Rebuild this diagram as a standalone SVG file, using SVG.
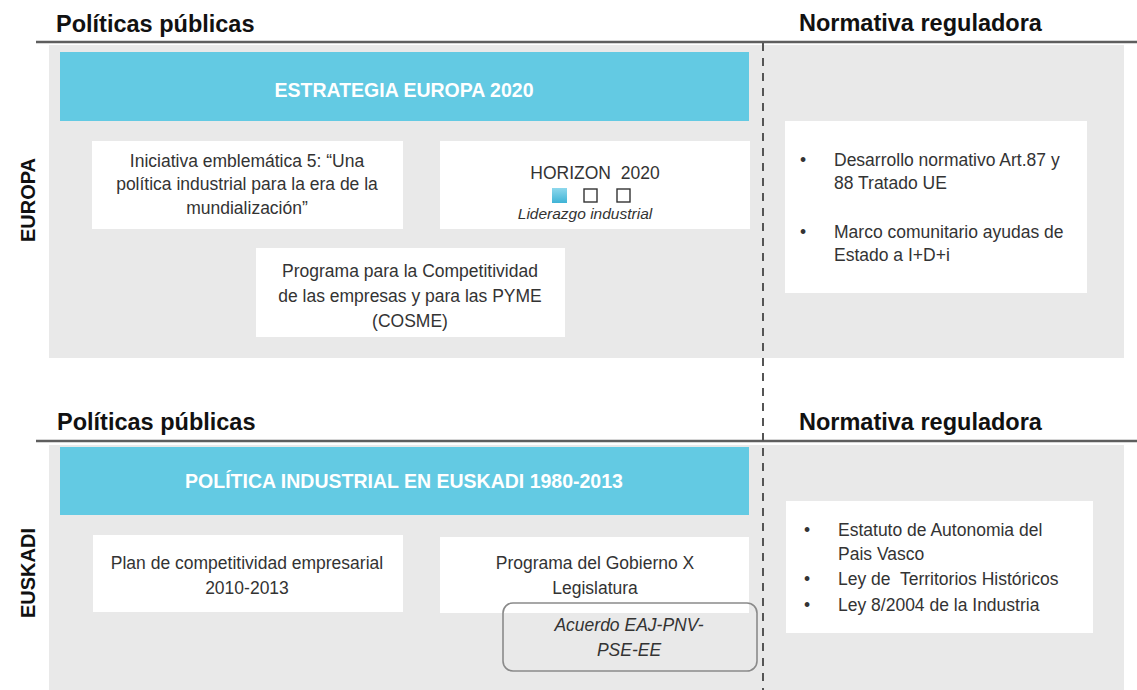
<svg xmlns="http://www.w3.org/2000/svg" width="1137" height="690" viewBox="0 0 1137 690">
<defs>
<style>
text{font-family:'Liberation Sans',Arial,sans-serif}
.h{font-weight:bold;font-size:23.5px;fill:#111}
.side{font-weight:bold;font-size:20px;fill:#111;text-anchor:middle}
.band{font-weight:bold;font-size:19.5px;fill:#fff;text-anchor:middle}
.t{font-size:17.5px;fill:#333;text-anchor:middle}
.l{font-size:17.5px;fill:#333}
.it{font-style:italic}
.panel{fill:#e9e9e9}
.bar{fill:#63cae3}
.box{fill:#fff}
.rule{stroke:#5e5e5e;stroke-width:2.5}
.sep{stroke:#555;stroke-width:2;stroke-dasharray:8 7;fill:none}
.hollow{fill:none;stroke:#333;stroke-width:1.4}
.pill{fill:none;stroke:#8a8a8a;stroke-width:1.6}
</style>
<linearGradient id="sq" x1="0" y1="0" x2="0" y2="1">
<stop offset="0" stop-color="#8ed8ec"/>
<stop offset="1" stop-color="#3fb3d6"/>
</linearGradient>
</defs>
<rect width="1137" height="690" fill="#fff"/>

<g id="europa-section">
<rect class="panel" x="49" y="45" width="1075" height="313"/>
<line class="rule" x1="36" y1="42" x2="1137" y2="42"/>
<text class="h" x="56" y="32">Políticas públicas</text>
<text class="h" x="799" y="31">Normativa reguladora</text>
<text class="side" transform="translate(35,200) rotate(-90)">EUROPA</text>
</g>

<g id="euskadi-section">
<rect class="panel" x="49" y="445" width="1075" height="245"/>
<line class="rule" x1="36" y1="441" x2="1137" y2="441"/>
<text class="h" x="57" y="430">Políticas públicas</text>
<text class="h" x="799" y="430">Normativa reguladora</text>
<text class="side" transform="translate(35,573) rotate(-90)">EUSKADI</text>
</g>

<g id="separators">
<line class="sep" x1="763" y1="43" x2="763" y2="690"/>
</g>

<g id="estrategia">
<rect class="bar" x="60" y="52" width="689" height="69"/>
<text class="band" x="404" y="97">ESTRATEGIA EUROPA 2020</text>
</g>

<g id="iniciativa">
<rect class="box" x="92" y="141" width="311" height="88"/>
<text class="t" x="247" y="167">Iniciativa emblemática 5: “Una</text>
<text class="t" x="247" y="190">política industrial para la era de la</text>
<text class="t" x="247" y="214">mundialización”</text>
</g>

<g id="horizon">
<rect class="box" x="440" y="141" width="310" height="88"/>
<text class="t" x="595" y="179" xml:space="preserve">HORIZON  2020</text>
<rect x="552" y="188" width="15" height="15" fill="url(#sq)"/>
<rect class="hollow" x="584" y="189" width="13" height="13"/>
<rect class="hollow" x="617" y="189" width="13" height="13"/>
<text class="t it" x="585" y="219" style="font-size:15.5px">Liderazgo industrial</text>
</g>

<g id="cosme">
<rect class="box" x="256" y="248" width="309" height="89"/>
<text class="t" x="410" y="277">Programa para la Competitividad</text>
<text class="t" x="410" y="302">de las empresas y para las PYME</text>
<text class="t" x="410" y="327">(COSME)</text>
</g>

<g id="normativa-europa">
<rect class="box" x="785" y="121" width="302" height="172"/>
<text class="l" x="800" y="166">•</text>
<text class="l" x="834" y="166">Desarrollo normativo Art.87 y</text>
<text class="l" x="834" y="189">88 Tratado UE</text>
<text class="l" x="800" y="238">•</text>
<text class="l" x="834" y="238">Marco comunitario ayudas de</text>
<text class="l" x="834" y="261">Estado a I+D+i</text>
</g>

<g id="politica-euskadi">
<rect class="bar" x="60" y="447" width="689" height="68"/>
<text class="band" x="404" y="488">POLÍTICA INDUSTRIAL EN EUSKADI 1980-2013</text>
</g>

<g id="plan-competitividad">
<rect class="box" x="93" y="535" width="310" height="77"/>
<text class="t" x="247" y="569">Plan de competitividad empresarial</text>
<text class="t" x="247" y="594">2010-2013</text>
</g>

<g id="programa-gobierno">
<rect class="box" x="440" y="537" width="309" height="76"/>
<text class="t" x="595" y="569">Programa del Gobierno X</text>
<text class="t" x="595" y="594">Legislatura</text>
</g>

<g id="acuerdo">
<rect class="pill" x="503" y="603" width="254" height="68" rx="10"/>
<text class="t it" x="629" y="631">Acuerdo EAJ-PNV-</text>
<text class="t it" x="629" y="656">PSE-EE</text>
</g>

<g id="normativa-euskadi">
<rect class="box" x="786" y="501" width="307" height="132"/>
<text class="l" x="804" y="536">•</text>
<text class="l" x="838" y="536">Estatuto de Autonomia del</text>
<text class="l" x="838" y="560">Pais Vasco</text>
<text class="l" x="804" y="585">•</text>
<text class="l" x="838" y="585" xml:space="preserve">Ley de  Territorios Históricos</text>
<text class="l" x="804" y="611">•</text>
<text class="l" x="838" y="611">Ley 8/2004 de la Industria</text>
</g>
</svg>
